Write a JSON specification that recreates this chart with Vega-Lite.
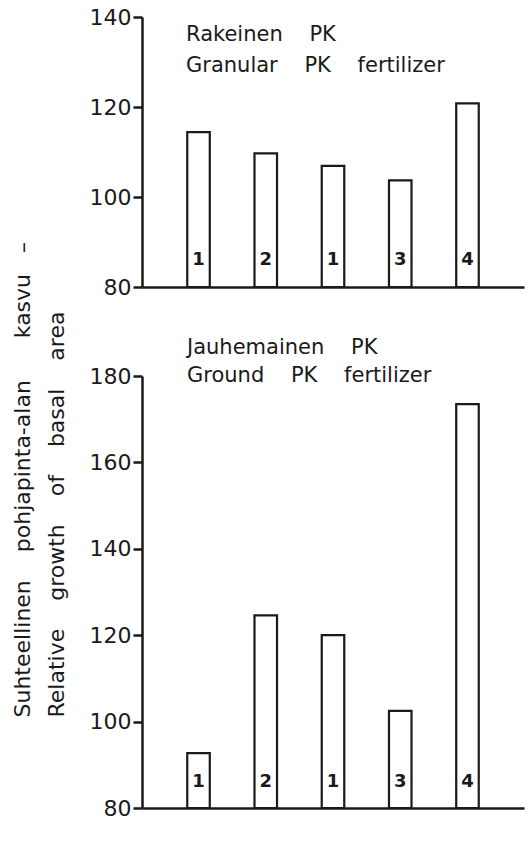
{
  "$schema": "https://vega.github.io/schema/vega-lite/v6.json",
  "background": "white",
  "padding": {"left": 11, "top": 6, "right": 5, "bottom": 5},
  "bounds": "flush",
  "spacing": 89,
  "config": {
    "view": {"stroke": null},
    "font": "DejaVu Sans",
    "axis": {
      "domainColor": "#1a1a1a", "domainWidth": 2.5,
      "tickColor": "#1a1a1a", "tickWidth": 2.5, "tickSize": 9,
      "labelColor": "#1a1a1a", "labelFontSize": 22, "labelPadding": 2,
      "labelFont": "DejaVu Sans", "grid": false
    },
    "title": {"color": "#1a1a1a", "font": "DejaVu Sans", "fontSize": 21, "fontWeight": "normal", "anchor": "start", "frame": "group", "baseline": "top"}
  },
  "datasets": {
    "granular": [
      {"pos": 1, "label": "1", "value": 114.4},
      {"pos": 2, "label": "2", "value": 109.7},
      {"pos": 3, "label": "1", "value": 106.9},
      {"pos": 4, "label": "3", "value": 103.7},
      {"pos": 5, "label": "4", "value": 120.8}
    ],
    "ground": [
      {"pos": 1, "label": "1", "value": 92.7},
      {"pos": 2, "label": "2", "value": 124.6},
      {"pos": 3, "label": "1", "value": 120.0},
      {"pos": 4, "label": "3", "value": 102.5},
      {"pos": 5, "label": "4", "value": 173.5}
    ]
  },
  "vconcat": [
    {
      "width": 382, "height": 270,
      "data": {"name": "granular"},
      "title": {
        "text": ["Rakeinen\u00a0\u00a0\u00a0\u00a0PK", "Granular\u00a0\u00a0\u00a0\u00a0PK\u00a0\u00a0\u00a0\u00a0fertilizer"],
        "lineHeight": 31, "offset": -70, "dx": 44
      },
      "encoding": {
        "x": {"field": "pos", "type": "ordinal",
          "scale": {"paddingInner": 0.665, "paddingOuter": 0.673},
          "axis": {"title": null, "labels": false, "ticks": false}}
      },
      "layer": [
        {
          "mark": {"type": "bar", "fill": "white", "stroke": "#1a1a1a", "strokeWidth": 2.2},
          "encoding": {
            "y": {"field": "value", "type": "quantitative",
              "scale": {"domain": [80, 140], "zero": false, "nice": false},
              "axis": {"title": null, "values": [80, 100, 120, 140]}},
            "y2": {"datum": 80}
          }
        },
        {
          "mark": {"type": "text", "dy": -27, "fontSize": 18, "fontWeight": "bold", "color": "#1a1a1a", "baseline": "middle"},
          "encoding": {
            "y": {"datum": 80},
            "text": {"field": "label"}
          }
        }
      ]
    },
    {
      "width": 382, "height": 432,
      "data": {"name": "ground"},
      "title": {
        "text": ["Jauhemainen\u00a0\u00a0\u00a0\u00a0PK", "Ground\u00a0\u00a0\u00a0\u00a0PK\u00a0\u00a0\u00a0\u00a0fertilizer"],
        "lineHeight": 28, "offset": -145, "dx": 45
      },
      "encoding": {
        "x": {"field": "pos", "type": "ordinal",
          "scale": {"paddingInner": 0.665, "paddingOuter": 0.673},
          "axis": {"title": null, "labels": false, "ticks": false}}
      },
      "layer": [
        {
          "mark": {"type": "bar", "fill": "white", "stroke": "#1a1a1a", "strokeWidth": 2.2},
          "encoding": {
            "y": {"field": "value", "type": "quantitative",
              "scale": {"domain": [80, 180], "zero": false, "nice": false},
              "axis": {
                "values": [80, 100, 120, 140, 160, 180],
                "title": ["Suhteellinen\u00a0\u00a0\u00a0\u00a0pohjapinta-alan\u00a0\u00a0\u00a0\u00a0\u00a0\u00a0kasvu\u00a0\u00a0\u00a0–", "Relative\u00a0\u00a0\u00a0\u00a0growth\u00a0\u00a0\u00a0\u00a0of\u00a0\u00a0\u00a0\u00a0basal\u00a0\u00a0\u00a0\u00a0area"],
                "titleFont": "DejaVu Sans", "titleFontSize": 22, "titleFontWeight": "normal", "titleColor": "#1a1a1a",
                "titleAngle": -90, "titleAlign": "left", "titleBaseline": "top",
                "titleLineHeight": 34, "titleX": -130, "titleY": 341
              }},
            "y2": {"datum": 80}
          }
        },
        {
          "mark": {"type": "text", "dy": -26, "fontSize": 18, "fontWeight": "bold", "color": "#1a1a1a", "baseline": "middle"},
          "encoding": {
            "y": {"datum": 80},
            "text": {"field": "label"}
          }
        }
      ]
    }
  ]
}
